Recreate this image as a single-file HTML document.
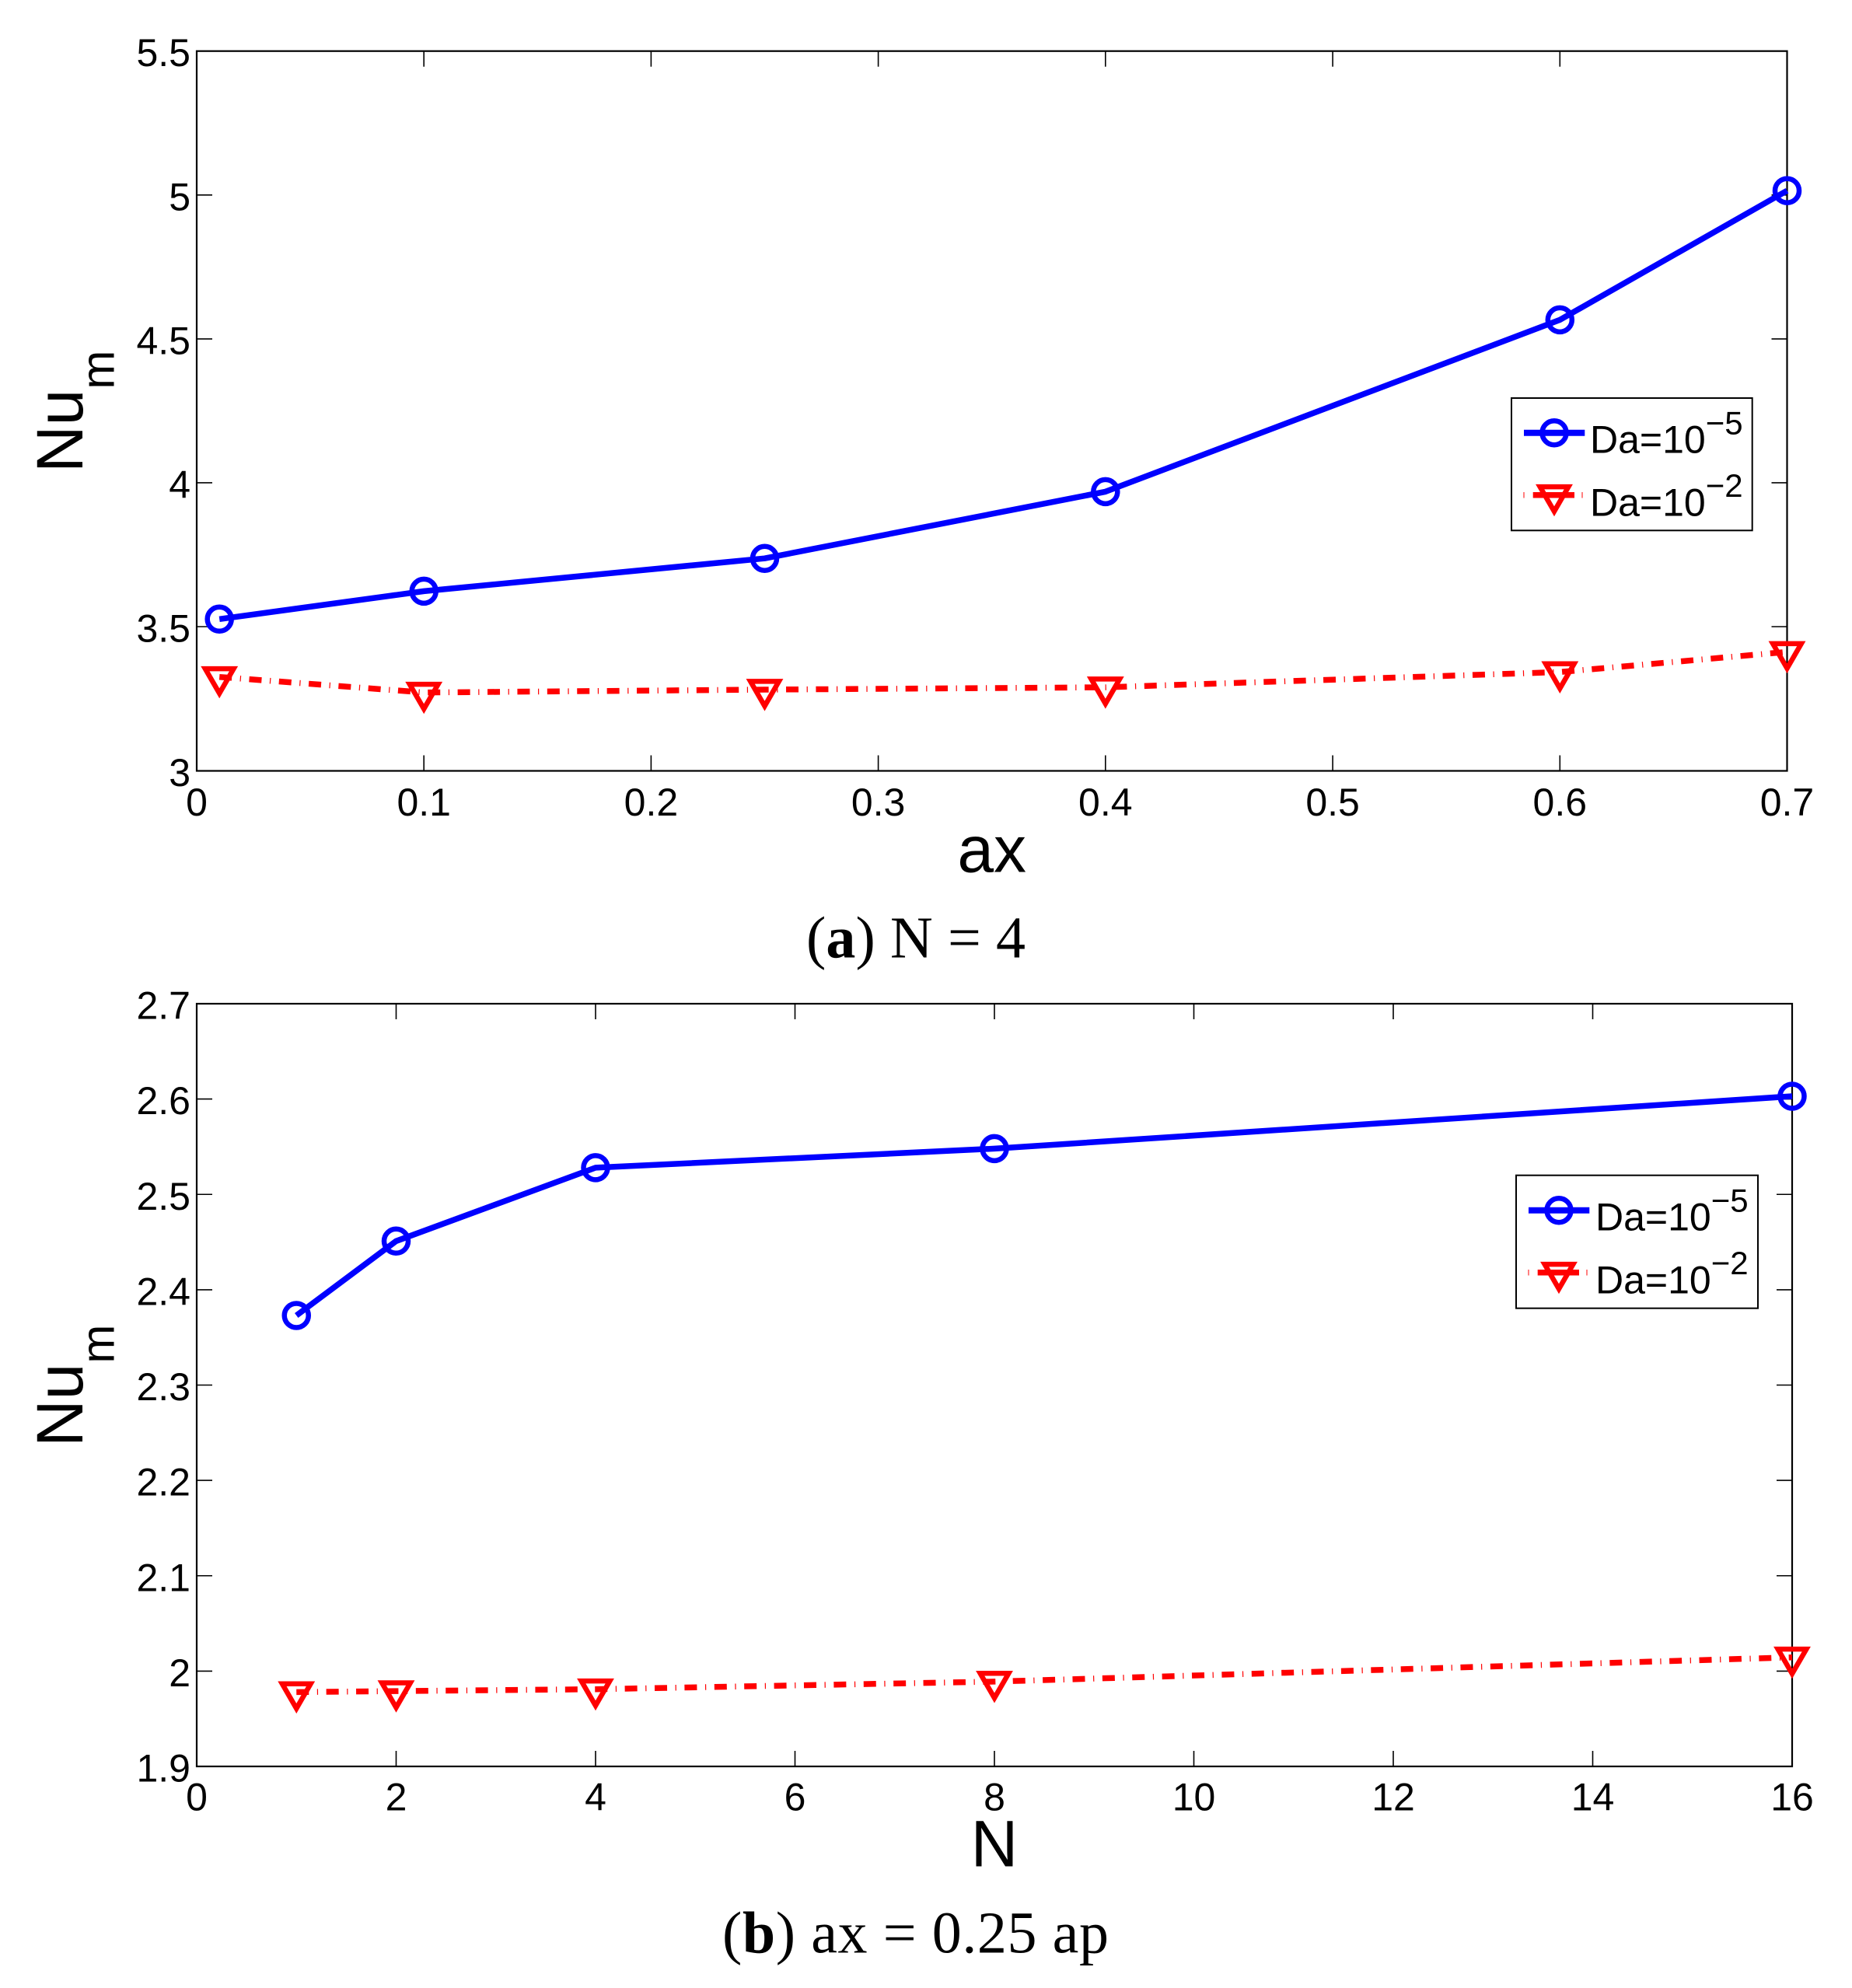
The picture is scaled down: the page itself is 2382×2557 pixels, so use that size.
<!DOCTYPE html>
<html>
<head>
<meta charset="utf-8">
<style>
  html, body { margin:0; padding:0; background:#fff; }
  svg { display:block; }
  .tk { font-family: "Liberation Sans", Arial, sans-serif; font-size:50px; fill:#000; }
  .lab { font-family: "Liberation Sans", Arial, sans-serif; font-size:84px; fill:#000; }
  .leg { font-family: "Liberation Sans", Arial, sans-serif; font-size:50px; fill:#000; }
  .cap { font-family: "Liberation Serif", "Times New Roman", serif; font-size:76px; fill:#000; }
</style>
</head>
<body>
<svg width="2382" height="2557" viewBox="0 0 2382 2557" xmlns="http://www.w3.org/2000/svg">
<rect x="0" y="0" width="2382" height="2557" fill="#fff"/>

<!-- ================= PLOT 1 ================= -->
<g stroke="#000" stroke-width="1.6" fill="none">
  <path d="M545.2 991.5V971.5M837.4 991.5V971.5M1129.6 991.5V971.5M1421.8 991.5V971.5M1714.1 991.5V971.5M2006.3 991.5V971.5
           M545.2 65.7V85.7M837.4 65.7V85.7M1129.6 65.7V85.7M1421.8 65.7V85.7M1714.1 65.7V85.7M2006.3 65.7V85.7"/>
  <path d="M253 806H273M253 620.9H273M253 435.9H273M253 250.8H273
           M2298.5 806H2278.5M2298.5 620.9H2278.5M2298.5 435.9H2278.5M2298.5 250.8H2278.5"/>
</g>
<rect x="253" y="65.7" width="2045.5" height="925.8" fill="none" stroke="#000" stroke-width="2.2"/>

<g class="tk" text-anchor="middle">
  <text x="253" y="1049">0</text>
  <text x="545.2" y="1049">0.1</text>
  <text x="837.4" y="1049">0.2</text>
  <text x="1129.6" y="1049">0.3</text>
  <text x="1421.8" y="1049">0.4</text>
  <text x="1714.1" y="1049">0.5</text>
  <text x="2006.3" y="1049">0.6</text>
  <text x="2298.5" y="1049">0.7</text>
</g>
<g class="tk" text-anchor="end">
  <text x="245" y="1011">3</text>
  <text x="245" y="825.5">3.5</text>
  <text x="245" y="640.4">4</text>
  <text x="245" y="455.4">4.5</text>
  <text x="245" y="270.3">5</text>
  <text x="245" y="85.2">5.5</text>
</g>

<text class="lab" x="1275.7" y="1121.7" text-anchor="middle">ax</text>
<text class="lab" transform="translate(106,608) rotate(-90)">Nu<tspan font-size="60" dy="40.7">m</tspan></text>

<polyline points="282.2,796.3 545.2,760.4 983.5,718.2 1421.8,632.4 2006.3,411.4 2298.5,245.2"
  fill="none" stroke="#0000ff" stroke-width="7.5" stroke-linejoin="round" stroke-linecap="butt"/>
<g fill="none" stroke="#0000ff" stroke-width="6.5">
  <circle cx="282.2" cy="796.3" r="15.5"/>
  <circle cx="545.2" cy="760.4" r="15.5"/>
  <circle cx="983.5" cy="718.2" r="15.5"/>
  <circle cx="1421.8" cy="632.4" r="15.5"/>
  <circle cx="2006.3" cy="411.4" r="15.5"/>
  <circle cx="2298.5" cy="245.2" r="15.5"/>
</g>

<polyline points="282.2,870.7 545.2,890.7 983.5,887 1421.8,884 2006.3,864.4 2298.5,838.5"
  fill="none" stroke="#ff0000" stroke-width="7.5" stroke-dasharray="16 10.6 1.2 10.6" stroke-linejoin="round"/>
<g fill="none" stroke="#ff0000" stroke-width="6.5" stroke-linejoin="miter">
  <path d="M263.9 860.1H300.5L282.2 891.8Z"/>
  <path d="M526.9 880.1H563.5L545.2 911.8Z"/>
  <path d="M965.2 876.4H1001.8L983.5 908.1Z"/>
  <path d="M1403.5 873.4H1440.1L1421.8 905.1Z"/>
  <path d="M1988 853.8H2024.6L2006.3 885.5Z"/>
  <path d="M2280.2 827.9H2316.8L2298.5 859.6Z"/>
</g>

<rect x="1944" y="512" width="309.7" height="170.3" fill="#fff" stroke="#000" stroke-width="2"/>
<line x1="1960" y1="556.7" x2="2038.3" y2="556.7" stroke="#0000ff" stroke-width="8"/>
<circle cx="1999" cy="556.7" r="15.5" fill="none" stroke="#0000ff" stroke-width="6.5"/>
<g stroke="#ff0000" stroke-width="7.5">
  <line x1="1959.5" y1="636.7" x2="1960.5" y2="636.7"/>
  <line x1="1971.7" y1="636.7" x2="2025" y2="636.7"/>
  <line x1="2034.5" y1="636.7" x2="2035.5" y2="636.7"/>
</g>
<path d="M1980.7 626.1H2017.3L1999 657.8Z" fill="none" stroke="#ff0000" stroke-width="6.5"/>
<text class="leg" x="2045" y="582.7">Da=10<tspan font-size="42" dy="-24.4">−5</tspan></text>
<text class="leg" x="2045" y="663.3">Da=10<tspan font-size="42" dy="-24.4">−2</tspan></text>

<text class="cap" x="1037" y="1231.7" textLength="282" lengthAdjust="spacing">(<tspan font-weight="bold">a</tspan>) N = 4</text>

<!-- ================= PLOT 2 ================= -->
<g stroke="#000" stroke-width="1.6" fill="none">
  <path d="M509.5 2272V2252M766 2272V2252M1022.5 2272V2252M1279 2272V2252M1535.5 2272V2252M1792 2272V2252M2048.5 2272V2252
           M509.5 1291V1311M766 1291V1311M1022.5 1291V1311M1279 1291V1311M1535.5 1291V1311M1792 1291V1311M2048.5 1291V1311"/>
  <path d="M253 2149.4H273M253 2026.75H273M253 1904.1H273M253 1781.5H273M253 1658.9H273M253 1536.25H273M253 1413.6H273
           M2305 2149.4H2285M2305 2026.75H2285M2305 1904.1H2285M2305 1781.5H2285M2305 1658.9H2285M2305 1536.25H2285M2305 1413.6H2285"/>
</g>
<rect x="253" y="1291" width="2052" height="981" fill="none" stroke="#000" stroke-width="2.2"/>

<g class="tk" text-anchor="middle">
  <text x="253" y="2328.3">0</text>
  <text x="509.5" y="2328.3">2</text>
  <text x="766" y="2328.3">4</text>
  <text x="1022.5" y="2328.3">6</text>
  <text x="1279" y="2328.3">8</text>
  <text x="1535.5" y="2328.3">10</text>
  <text x="1792" y="2328.3">12</text>
  <text x="2048.5" y="2328.3">14</text>
  <text x="2305" y="2328.3">16</text>
</g>
<g class="tk" text-anchor="end">
  <text x="245" y="2291.5">1.9</text>
  <text x="245" y="2168.9">2</text>
  <text x="245" y="2046.25">2.1</text>
  <text x="245" y="1923.6">2.2</text>
  <text x="245" y="1801">2.3</text>
  <text x="245" y="1678.4">2.4</text>
  <text x="245" y="1555.75">2.5</text>
  <text x="245" y="1433.1">2.6</text>
  <text x="245" y="1310.5">2.7</text>
</g>

<text class="lab" x="1279" y="2400.7" text-anchor="middle">N</text>
<text class="lab" transform="translate(106,1861) rotate(-90)">Nu<tspan font-size="60" dy="40.7">m</tspan></text>

<polyline points="381.25,1692 509.5,1596.3 766,1501.9 1279,1477.4 2305,1410"
  fill="none" stroke="#0000ff" stroke-width="7.5" stroke-linejoin="round"/>
<g fill="none" stroke="#0000ff" stroke-width="6.5">
  <circle cx="381.25" cy="1692" r="15.5"/>
  <circle cx="509.5" cy="1596.3" r="15.5"/>
  <circle cx="766" cy="1501.9" r="15.5"/>
  <circle cx="1279" cy="1477.4" r="15.5"/>
  <circle cx="2305" cy="1410" r="15.5"/>
</g>

<polyline points="381.25,2176.4 509.5,2175.1 766,2172.7 1279,2162.9 2305,2131.7"
  fill="none" stroke="#ff0000" stroke-width="7.5" stroke-dasharray="16 10.6 1.2 10.6" stroke-linejoin="round"/>
<g fill="none" stroke="#ff0000" stroke-width="6.5" stroke-linejoin="miter">
  <path d="M362.95 2165.8H399.55L381.25 2197.5Z"/>
  <path d="M491.2 2164.5H527.8L509.5 2196.2Z"/>
  <path d="M747.7 2162.1H784.3L766 2193.8Z"/>
  <path d="M1260.7 2152.3H1297.3L1279 2184Z"/>
  <path d="M2286.7 2121.1H2323.3L2305 2152.8Z"/>
</g>

<rect x="1950" y="1511.7" width="311" height="171" fill="#fff" stroke="#000" stroke-width="2"/>
<line x1="1966" y1="1556.7" x2="2044.3" y2="1556.7" stroke="#0000ff" stroke-width="8"/>
<circle cx="2005" cy="1556.7" r="15.5" fill="none" stroke="#0000ff" stroke-width="6.5"/>
<g stroke="#ff0000" stroke-width="7.5">
  <line x1="1965.5" y1="1636.7" x2="1966.5" y2="1636.7"/>
  <line x1="1977.7" y1="1636.7" x2="2031" y2="1636.7"/>
  <line x1="2040.5" y1="1636.7" x2="2041.5" y2="1636.7"/>
</g>
<path d="M1986.7 1626.1H2023.3L2005 1657.8Z" fill="none" stroke="#ff0000" stroke-width="6.5"/>
<text class="leg" x="2052" y="1582.7">Da=10<tspan font-size="42" dy="-24.4">−5</tspan></text>
<text class="leg" x="2052" y="1663.3">Da=10<tspan font-size="42" dy="-24.4">−2</tspan></text>

<text class="cap" x="929" y="2511.7" textLength="497" lengthAdjust="spacing">(<tspan font-weight="bold">b</tspan>) ax = 0.25 ap</text>

</svg>
</body>
</html>
